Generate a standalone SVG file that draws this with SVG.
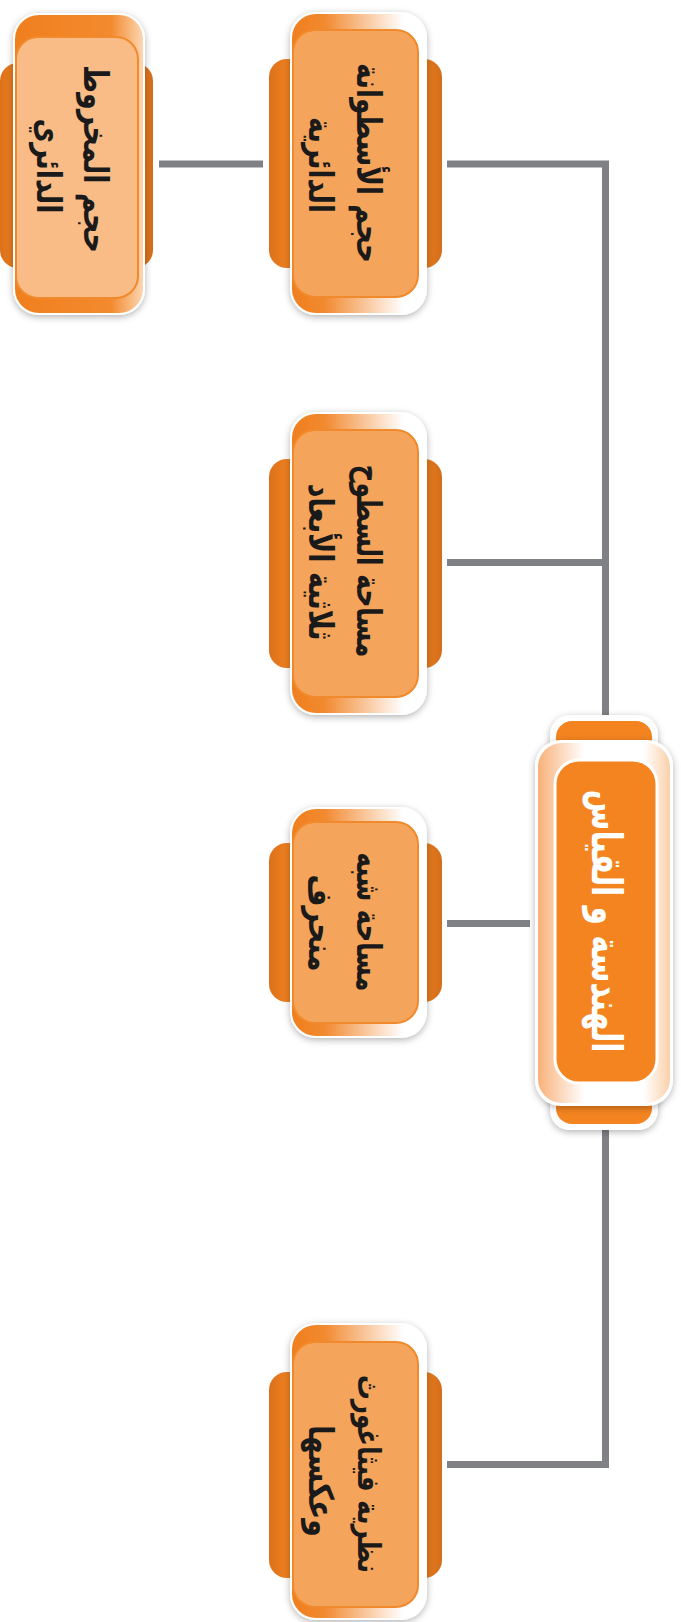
<svg xmlns="http://www.w3.org/2000/svg" width="681" height="1622" viewBox="0 0 681 1622">
<defs>
<filter id="sh" x="-20%" y="-20%" width="140%" height="140%">
<feDropShadow dx="0" dy="2" stdDeviation="3.5" flood-color="#000" flood-opacity="0.3"/>
</filter>
<linearGradient id="gTab" x1="0" y1="0" x2="1" y2="0">
<stop offset="0" stop-color="#DC711B"/><stop offset="0.14" stop-color="#F38421"/><stop offset="0.86" stop-color="#F38421"/><stop offset="1" stop-color="#D46D1A"/>
</linearGradient>
<linearGradient id="gCard" x1="0" y1="0" x2="1" y2="0">
<stop offset="0" stop-color="#F07E1E"/><stop offset="0.25" stop-color="#F28A30"/><stop offset="0.85" stop-color="#FFFFFF"/><stop offset="1" stop-color="#FFFFFF"/>
</linearGradient>
<linearGradient id="gCard5" x1="0" y1="0" x2="1" y2="0">
<stop offset="0" stop-color="#F07F1E"/><stop offset="0.75" stop-color="#F38A2E"/><stop offset="1" stop-color="#FCD6B2"/>
</linearGradient>
<linearGradient id="gCenter" x1="0" y1="0" x2="1" y2="0">
<stop offset="0" stop-color="#F8B179"/><stop offset="0.35" stop-color="#FFFFFF"/><stop offset="0.8" stop-color="#FFFFFF"/><stop offset="1" stop-color="#FAD0AA"/>
</linearGradient>
</defs>
<style>
.tab{fill:url(#gTab)}
.card{fill:#FFFFFF;filter:url(#sh)}
.grad{fill:url(#gCard)}
.inner{fill:#F5A45B;stroke:#F08A2C;stroke-width:2}
.inner5{fill:#F9BC86;stroke:#F08A2C;stroke-width:2}
.t{font-family:"DejaVu Sans",sans-serif;font-weight:bold;font-size:34px;fill:#1A1A1A;text-anchor:middle}
.tc{font-family:"DejaVu Sans",sans-serif;font-weight:bold;font-size:42px;fill:#FFFFFF;text-anchor:middle}
.conn{fill:none;stroke:#808184;stroke-width:7}
</style>
<g id="connectors">
<path class="conn" d="M447 164 H605.5 V715"/>
<path class="conn" d="M447 562.5 H605.5"/>
<path class="conn" d="M447 923.5 H530"/>
<path class="conn" d="M605.5 1128 V1464.5 H447"/>
<path class="conn" d="M159 164 H263"/>
</g>
<g id="node-cylinder">
<rect class="tab" x="269" y="59" width="173" height="209" rx="18"/>
<rect class="card" x="290" y="12" width="137" height="303" rx="26"/>
<rect class="grad" x="292" y="14" width="131" height="299" rx="24"/>
<rect class="inner" x="293" y="30" width="125" height="267" rx="22"/>
<text class="t" transform="translate(357 163) rotate(90)" textLength="200" lengthAdjust="spacingAndGlyphs">حجم الأسطوانة</text>
<text class="t" transform="translate(309 165) rotate(90)" textLength="96" lengthAdjust="spacingAndGlyphs">الدائرية</text>
</g>
<g id="node-surface">
<rect class="tab" x="269" y="459" width="173" height="209" rx="18"/>
<rect class="card" x="290" y="412" width="137" height="303" rx="26"/>
<rect class="grad" x="292" y="414" width="131" height="299" rx="24"/>
<rect class="inner" x="293" y="430" width="125" height="267" rx="22"/>
<text class="t" transform="translate(357 561) rotate(90)" textLength="193" lengthAdjust="spacingAndGlyphs">مساحة السطوح</text>
<text class="t" transform="translate(309 562) rotate(90)" textLength="157" lengthAdjust="spacingAndGlyphs">ثلاثية الأبعاد</text>
</g>
<g id="node-trapezoid">
<rect class="tab" x="269" y="843" width="173" height="159" rx="18"/>
<rect class="card" x="290" y="807" width="137" height="231" rx="26"/>
<rect class="grad" x="292" y="809" width="131" height="227" rx="24"/>
<rect class="inner" x="293" y="822" width="125" height="201" rx="22"/>
<text class="t" transform="translate(357 922) rotate(90)" textLength="139" lengthAdjust="spacingAndGlyphs">مساحة شبه</text>
<text class="t" transform="translate(309 923) rotate(90)" textLength="97" lengthAdjust="spacingAndGlyphs">منحرف</text>
</g>
<g id="node-pythagoras">
<rect class="tab" x="269" y="1372" width="173" height="206" rx="18"/>
<rect class="card" x="290" y="1323" width="137" height="297" rx="26"/>
<rect class="grad" x="292" y="1325" width="131" height="293" rx="24"/>
<rect class="inner" x="293" y="1342" width="125" height="265" rx="22"/>
<text class="t" style="font-size:31px" transform="translate(358 1474) rotate(90)" textLength="198" lengthAdjust="spacingAndGlyphs">نظرية فيثاغورث</text>
<text class="t" transform="translate(309 1481) rotate(90)" textLength="112" lengthAdjust="spacingAndGlyphs">وعكسها</text>
</g>
<g id="node-cone">
<rect class="tab" x="0" y="63" width="153" height="205" rx="18"/>
<rect class="card" x="13" y="13" width="132" height="302" rx="26"/>
<rect x="15" y="15" width="128" height="298" rx="24" fill="url(#gCard5)"/>
<rect class="inner5" x="16" y="37" width="122" height="261" rx="22"/>
<text class="t" transform="translate(84 159) rotate(90)" textLength="188" lengthAdjust="spacingAndGlyphs">حجم المخروط</text>
<text class="t" transform="translate(37 166) rotate(90)" textLength="95" lengthAdjust="spacingAndGlyphs">الدائري</text>
</g>
<g id="node-center">
<rect x="550" y="715" width="108" height="62" rx="20" fill="#FFFFFF" filter="url(#sh)"/>
<rect x="556" y="721" width="96" height="52" rx="16" fill="#F48420"/>
<rect x="550" y="1070" width="108" height="60" rx="20" fill="#FFFFFF" filter="url(#sh)"/>
<rect x="556" y="1076" width="96" height="48" rx="16" fill="#F48420"/>
<rect class="card" x="535" y="740" width="138" height="366" rx="26"/>
<rect x="538" y="743" width="132" height="360" rx="24" fill="url(#gCenter)"/>
<rect x="555" y="760" width="102" height="323" rx="24" fill="#F48420" stroke="#FFFFFF" stroke-width="3"/>
<text class="tc" transform="translate(592 921) rotate(90)" textLength="263" lengthAdjust="spacingAndGlyphs">الهندسة و القياس</text>
</g>
</svg>
